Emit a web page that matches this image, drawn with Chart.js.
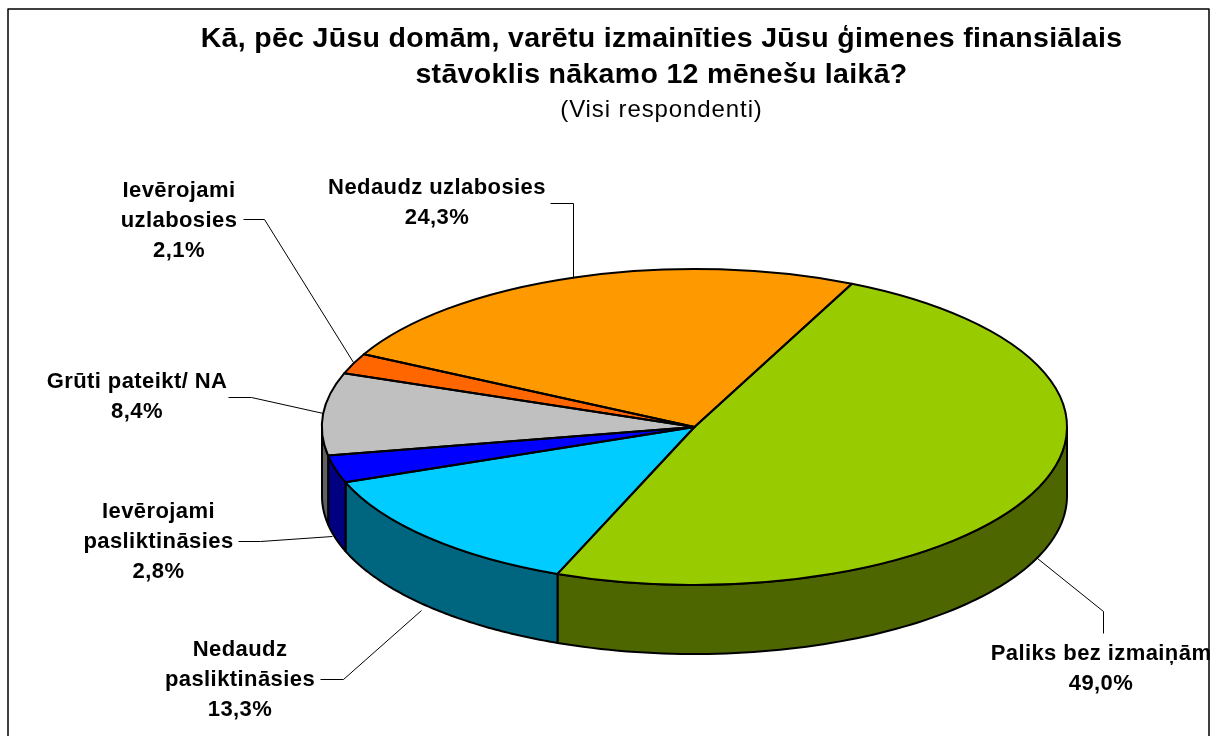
<!DOCTYPE html>
<html><head><meta charset="utf-8">
<style>html,body{margin:0;padding:0;background:#fff}#w{position:absolute;left:0;top:0;width:1217px;height:736px}</style>
<script src="https://cdn.jsdelivr.net/npm/chart.js@4"></script>
</head><body><div id="w"><canvas id="c" width="1217" height="736"></canvas></div>
<script>
const categories = ["Paliks bez izmaiņām","Nedaudz pasliktināsies","Ievērojami pasliktināsies","Grūti pateikt/ NA","Ievērojami uzlabosies","Nedaudz uzlabosies"];
const values = [49.0,13.3,2.8,8.4,2.1,24.3];
const valueLabels = ["49,0%","13,3%","2,8%","8,4%","2,1%","24,3%"];
const labelLines = [["Paliks bez izmaiņām"],["Nedaudz","pasliktināsies"],["Ievērojami","pasliktināsies"],["Grūti pateikt/ NA"],["Ievērojami","uzlabosies"],["Nedaudz uzlabosies"]];
const topColors = ["#99CC00","#00CCFF","#0000FF","#C0C0C0","#FF6600","#FF9900"];
const sideColors = ["#4D6600","#006680","#000080","#606060","#803300","#804D00"];
const titleLines = ["Kā, pēc Jūsu domām, varētu izmainīties Jūsu ģimenes finansiālais","stāvoklis nākamo 12 mēnešu laikā?"];
const subtitleText = "(Visi respondenti)";

const CX=694.5, CY=427, RX=372.5, RY=158, DEPTH=69;
const SQ=RY/RX;
// label centre x, first baseline y, leader polyline
const labelBoxes=[
 {x:1101,y:660,line:[[1103,633],[1103,611],[1037,558]]},
 {x:240,y:656,line:[[320,679],[343,679],[421,610]]},
 {x:158.5,y:518,line:[[238,541],[260,541],[332,536]]},
 {x:137,y:388,line:[[228,397],[251,397],[323,413]]},
 {x:179,y:197,line:[[243,219],[264,219],[353,362]]},
 {x:437,y:194,line:[[550,203],[573,203],[573,278]]}
];
const FONT="bold 22px 'Liberation Sans', Arial, sans-serif";
const LABEL_GAP=30, TITLE_SPACING='0.32px', SUBTITLE_SPACING='0.9px', LABEL_SPACING='0.42px';

const pie3d={
 id:'pie3d',
 afterLayout(chart){
  Object.assign(chart.chartArea,{left:CX-RX,right:CX+RX,top:CY-RX,bottom:CY+RX,width:2*RX,height:2*RX});
  chart.boxes.forEach(b=>{
    if(b.options&&b.options.text===subtitleText&&!b._spaced){
      const d=b.draw;b._spaced=true;
      b.draw=function(...args){chart.ctx.letterSpacing=SUBTITLE_SPACING;d.apply(this,args);chart.ctx.letterSpacing=TITLE_SPACING;};
    }
  });
 },
 beforeDraw(chart){chart.ctx.letterSpacing=TITLE_SPACING;},
 beforeDatasetsDraw(chart){
  const ctx=chart.ctx, arcs=chart.getDatasetMeta(0).data;
  const x=arcs[0].x,y=arcs[0].y,r=arcs[0].outerRadius;
  ctx.save();
  ctx.strokeStyle='#000';ctx.lineWidth=2;ctx.lineJoin='round';
  arcs.forEach((a,i)=>{
    const ranges=[];
    [0,-2*Math.PI].forEach(sh=>{
      const p=Math.max(a.startAngle+sh,0), q=Math.min(a.endAngle+sh,Math.PI);
      if(q>p) ranges.push([p,q]);
    });
    ranges.forEach(([p,q])=>{
      ctx.beginPath();
      for(let k=0;k<=80;k++){const t=p+(q-p)*k/80;ctx.lineTo(x+r*Math.cos(t),y+r*SQ*Math.sin(t));}
      for(let k=80;k>=0;k--){const t=p+(q-p)*k/80;ctx.lineTo(x+r*Math.cos(t),y+r*SQ*Math.sin(t)+DEPTH);}
      ctx.closePath();
      ctx.fillStyle=sideColors[i];ctx.fill();ctx.stroke();
    });
  });
  ctx.restore();
  ctx.save();
  ctx.translate(x,y);ctx.scale(1,SQ);ctx.translate(-x,-y);
 },
 afterDatasetsDraw(chart){
  const ctx=chart.ctx, arcs=chart.getDatasetMeta(0).data;
  ctx.restore();
  ctx.save();
  ctx.strokeStyle='#000';ctx.lineWidth=2;ctx.lineJoin='round';
  arcs.forEach(a=>{
    ctx.beginPath();
    ctx.moveTo(a.x,a.y);
    ctx.ellipse(a.x,a.y,a.outerRadius,a.outerRadius*SQ,0,a.startAngle,a.endAngle);
    ctx.closePath();
    ctx.stroke();
  });
  ctx.lineWidth=1;
  labelBoxes.forEach(b=>{
    ctx.beginPath();
    b.line.forEach((p,k)=>k?ctx.lineTo(p[0]+.5,p[1]+.5):ctx.moveTo(p[0]+.5,p[1]+.5));
    ctx.stroke();
  });
  ctx.fillStyle='#000';ctx.font=FONT;ctx.textAlign='center';ctx.textBaseline='alphabetic';ctx.letterSpacing=LABEL_SPACING;
  labelBoxes.forEach((b,i)=>{
    [...labelLines[i],valueLabels[i]].forEach((l,k)=>ctx.fillText(l,b.x,b.y+k*LABEL_GAP));
  });
  ctx.strokeStyle='#000';ctx.lineWidth=1.5;
  ctx.strokeRect(8,9,1201,760);
  ctx.restore();
 }
};

new Chart(document.getElementById('c'),{
 type:'pie',
 data:{labels:categories,datasets:[{data:values,backgroundColor:topColors,borderWidth:0,radius:RX}]},
 options:{
  responsive:false,animation:false,
  rotation:25,
  layout:{padding:{left:106,right:0,top:0,bottom:0}},
  plugins:{
   legend:{display:false},tooltip:{enabled:false},
   title:{display:true,text:titleLines,color:'#000',font:{family:"'Liberation Sans', Arial, sans-serif",size:28.5,weight:'bold',lineHeight:1.263},padding:{top:21,bottom:0}},
   subtitle:{display:true,text:subtitleText,color:'#000',font:{family:"'Liberation Sans', Arial, sans-serif",size:24,weight:'normal'},padding:{top:3,bottom:0}}
  }
 },
 plugins:[pie3d]
});
</script></body></html>
